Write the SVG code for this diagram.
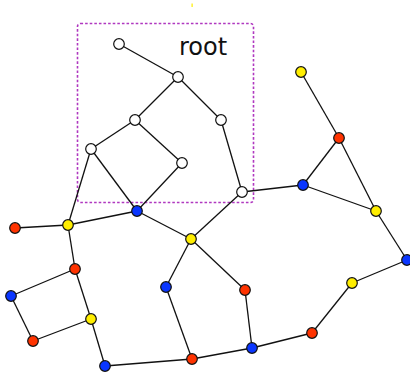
<svg xmlns="http://www.w3.org/2000/svg" width="410" height="373" viewBox="0 0 410 373">
  <style>
    .edge { stroke: #111; stroke-width: 1.3; fill: none; }
    .node { stroke: #111; stroke-width: 1.2; }
    .w { fill: #ffffff; }
    .b { fill: #0a36ff; }
    .r { fill: #ff3300; }
    .y { fill: #ffee00; }
    .cluster { fill: none; stroke: #b038c0; stroke-width: 1.6; stroke-dasharray: 2.6 2; }
    .label { font-family: "DejaVu Sans", sans-serif; font-size: 24px; fill: #111; }
  </style>
  <rect width="410" height="373" fill="#ffffff"/>

  <!-- subtree cluster -->
  <g id="cluster-root">
    <rect class="cluster" x="77.5" y="23.5" width="176" height="179" rx="3"/>
    <text class="label" x="179" y="55">root</text>
  </g>
  <rect x="191.5" y="3.5" width="1.2" height="3.5" fill="#ffee00"/>

  <g id="edges">
    <line class="edge" x1="119" y1="44" x2="178" y2="77"/>
    <line class="edge" x1="178" y1="77" x2="135" y2="120"/>
    <line class="edge" x1="178" y1="77" x2="221" y2="120"/>
    <line class="edge" x1="135" y1="120" x2="91" y2="149"/>
    <line class="edge" x1="135" y1="120" x2="182" y2="163"/>
    <line class="edge" x1="91" y1="149" x2="137" y2="211"/>
    <line class="edge" x1="182" y1="163" x2="137" y2="211"/>
    <line class="edge" x1="221" y1="120" x2="242" y2="192"/>
    <line class="edge" x1="91" y1="149" x2="68" y2="225"/>
    <line class="edge" x1="242" y1="192" x2="303" y2="185"/>
    <line class="edge" x1="242" y1="192" x2="191" y2="239"/>
    <line class="edge" x1="137" y1="211" x2="68" y2="225"/>
    <line class="edge" x1="137" y1="211" x2="191" y2="239"/>
    <line class="edge" x1="68" y1="225" x2="15" y2="228"/>
    <line class="edge" x1="68" y1="225" x2="75" y2="269"/>
    <line class="edge" x1="75" y1="269" x2="11" y2="296"/>
    <line class="edge" x1="75" y1="269" x2="91" y2="319"/>
    <line class="edge" x1="11" y1="296" x2="33" y2="341"/>
    <line class="edge" x1="33" y1="341" x2="91" y2="319"/>
    <line class="edge" x1="91" y1="319" x2="105" y2="366"/>
    <line class="edge" x1="105" y1="366" x2="192" y2="359"/>
    <line class="edge" x1="191" y1="239" x2="166" y2="287"/>
    <line class="edge" x1="166" y1="287" x2="192" y2="359"/>
    <line class="edge" x1="191" y1="239" x2="245" y2="290"/>
    <line class="edge" x1="245" y1="290" x2="252" y2="348"/>
    <line class="edge" x1="192" y1="359" x2="252" y2="348"/>
    <line class="edge" x1="252" y1="348" x2="312" y2="333"/>
    <line class="edge" x1="312" y1="333" x2="352" y2="283"/>
    <line class="edge" x1="352" y1="283" x2="407" y2="260"/>
    <line class="edge" x1="407" y1="260" x2="376" y2="211"/>
    <line class="edge" x1="376" y1="211" x2="339" y2="138"/>
    <line class="edge" x1="376" y1="211" x2="303" y2="185"/>
    <line class="edge" x1="303" y1="185" x2="339" y2="138"/>
    <line class="edge" x1="339" y1="138" x2="301" y2="72"/>
  </g>

  <!-- nodes inside the cluster -->
  <g id="n1"><circle class="node w" cx="119" cy="44" r="5.3"/></g>
  <g id="n2"><circle class="node w" cx="178" cy="77" r="5.3"/></g>
  <g id="n3"><circle class="node w" cx="135" cy="120" r="5.3"/></g>
  <g id="n4"><circle class="node w" cx="221" cy="120" r="5.3"/></g>
  <g id="n5"><circle class="node w" cx="91" cy="149" r="5.3"/></g>
  <g id="n6"><circle class="node w" cx="182" cy="163" r="5.3"/></g>
  <g id="n7"><circle class="node w" cx="242" cy="192" r="5.3"/></g>

  <!-- coloured nodes -->
  <g id="n8"><circle class="node b" cx="137" cy="211" r="5.3"/></g>
  <g id="n9"><circle class="node y" cx="68" cy="225" r="5.3"/></g>
  <g id="n10"><circle class="node r" cx="15" cy="228" r="5.3"/></g>
  <g id="n11"><circle class="node y" cx="191" cy="239" r="5.3"/></g>
  <g id="n12"><circle class="node r" cx="75" cy="269" r="5.3"/></g>
  <g id="n13"><circle class="node b" cx="11" cy="296" r="5.3"/></g>
  <g id="n14"><circle class="node y" cx="91" cy="319" r="5.3"/></g>
  <g id="n15"><circle class="node r" cx="33" cy="341" r="5.3"/></g>
  <g id="n16"><circle class="node b" cx="105" cy="366" r="5.3"/></g>
  <g id="n17"><circle class="node b" cx="166" cy="287" r="5.3"/></g>
  <g id="n18"><circle class="node r" cx="192" cy="359" r="5.3"/></g>
  <g id="n19"><circle class="node r" cx="245" cy="290" r="5.3"/></g>
  <g id="n20"><circle class="node b" cx="252" cy="348" r="5.3"/></g>
  <g id="n21"><circle class="node r" cx="312" cy="333" r="5.3"/></g>
  <g id="n22"><circle class="node y" cx="352" cy="283" r="5.3"/></g>
  <g id="n23"><circle class="node b" cx="407" cy="260" r="5.3"/></g>
  <g id="n24"><circle class="node y" cx="376" cy="211" r="5.3"/></g>
  <g id="n25"><circle class="node b" cx="303" cy="185" r="5.3"/></g>
  <g id="n26"><circle class="node r" cx="339" cy="138" r="5.3"/></g>
  <g id="n27"><circle class="node y" cx="301" cy="72" r="5.3"/></g>
</svg>
